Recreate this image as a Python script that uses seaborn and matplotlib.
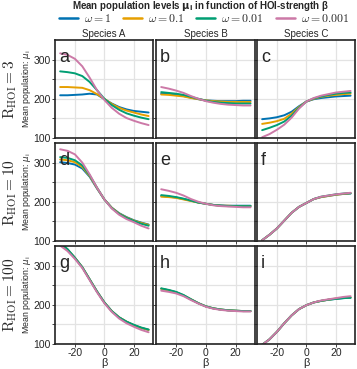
import pandas as pd
import matplotlib.pyplot as plt
import seaborn as sns
from matplotlib.lines import Line2D

beta = [-30, -25, -20, -15, -10, -5, 0, 5, 10, 15, 20, 25, 30]
omega = ['1', '0.1', '0.01', '0.001']
species = ['Species A', 'Species B', 'Species C']
r_hoi = ['3', '10', '100']
letters = ['a', 'b', 'c', 'd', 'e', 'f', 'g', 'h', 'i']
colors = ['#0072B2', '#E69F00', '#009E73', '#CC79A7']

# mean population, one row per omega (1, 0.1, 0.01, 0.001)
mu_a = [[209, 209, 210, 211, 213, 211, 199, 188, 179, 173, 169, 167, 165],
        [230, 230, 229, 228, 222, 212, 200, 187, 177, 170, 165, 160, 156],
        [270, 268, 265, 258, 243, 222, 200, 184, 172, 163, 157, 152, 148],
        [316, 312, 302, 283, 254, 222, 197, 177, 162, 151, 144, 138, 133]]
mu_b = [[213, 212, 210, 207, 203, 199, 196, 195, 194, 194, 194, 195, 195],
        [211, 210, 208, 206, 202, 199, 196, 194, 193, 192, 192, 192, 192],
        [217, 215, 213, 210, 205, 200, 195, 192, 190, 189, 188, 188, 188],
        [230, 226, 221, 215, 207, 200, 194, 190, 187, 185, 184, 183, 183]]
mu_c = [[148, 150, 153, 158, 167, 181, 193, 199, 202, 204, 206, 207, 208],
        [136, 139, 143, 149, 162, 179, 193, 200, 205, 208, 210, 212, 213],
        [120, 126, 133, 142, 157, 177, 193, 201, 206, 210, 213, 215, 216],
        [102, 110, 121, 134, 152, 175, 193, 202, 208, 212, 216, 218, 220]]
mu_d = [[301, 299, 295, 285, 264, 234, 206, 185, 171, 161, 153, 147, 142],
        [308, 306, 301, 289, 266, 235, 206, 185, 170, 160, 152, 146, 141],
        [314, 312, 306, 293, 268, 236, 206, 184, 169, 159, 151, 144, 139],
        [334, 330, 321, 300, 270, 236, 206, 183, 167, 156, 148, 139, 132]]
mu_e = [[215, 213, 211, 207, 203, 198, 195, 192, 191, 190, 190, 190, 190],
        [213, 212, 210, 206, 202, 198, 195, 192, 190, 190, 189, 189, 189],
        [217, 215, 212, 208, 203, 198, 195, 192, 190, 189, 189, 189, 189],
        [232, 228, 223, 216, 207, 200, 195, 191, 189, 188, 187, 186, 186]]
mu_f = [[102, 116, 132, 152, 172, 187, 197, 207, 212, 215, 218, 220, 221],
        [102, 116, 132, 152, 172, 187, 197, 207, 212, 215, 218, 220, 222],
        [102, 116, 132, 152, 172, 187, 197, 207, 213, 216, 219, 221, 222],
        [102, 116, 132, 152, 172, 187, 197, 207, 213, 216, 219, 221, 223]]
mu_g = [[357, 341, 320, 296, 265, 234, 206, 184, 168, 157, 148, 141, 136],
        [357, 341, 320, 296, 265, 234, 206, 184, 168, 157, 148, 141, 136],
        [358, 342, 320, 296, 265, 234, 206, 184, 168, 157, 149, 142, 137],
        [351, 337, 317, 294, 263, 232, 204, 182, 165, 153, 144, 136, 130]]
mu_h = [[241, 237, 232, 224, 214, 204, 196, 191, 188, 186, 185, 184, 184],
        [241, 237, 232, 224, 214, 204, 196, 191, 188, 186, 185, 184, 184],
        [242, 238, 233, 225, 214, 204, 196, 191, 188, 186, 185, 184, 184],
        [236, 233, 229, 222, 212, 203, 195, 190, 187, 185, 184, 183, 183]]
mu_i = [[98, 112, 131, 153, 173, 189, 199, 206, 210, 213, 215, 217, 218],
        [98, 112, 131, 153, 173, 189, 199, 206, 210, 213, 216, 218, 219],
        [98, 112, 131, 153, 173, 189, 199, 206, 210, 213, 215, 217, 218],
        [98, 112, 131, 153, 173, 189, 199, 206, 211, 214, 217, 220, 222]]
panels = [mu_a, mu_b, mu_c, mu_d, mu_e, mu_f, mu_g, mu_h, mu_i]

sns.set_theme(style='white')
plt.rcParams['font.family'] = ['Liberation Sans', 'DejaVu Sans']
plt.rcParams['mathtext.fontset'] = 'cm'

W, H = 357, 369
fig = plt.figure(figsize=(W / 100, H / 100), dpi=100)
cols = [(55, 153), (156, 255), (257, 355)]
rows = [(40, 138), (143, 241), (246, 344)]

for r, (top, bot) in enumerate(rows):
    for c, (left, right) in enumerate(cols):
        ax = fig.add_axes([left / W, 1 - bot / H, (right - left) / W, (bot - top) / H])
        vals = panels[r * 3 + c]
        df = pd.DataFrame({
            'beta': beta * 4,
            'mu': [v for row in vals for v in row],
            'omega': [w for w in omega for _ in beta],
        })
        sns.lineplot(data=df, x='beta', y='mu', hue='omega', hue_order=omega,
                     palette=colors, linewidth=1.4, legend=False, ax=ax)
        ax.set_xlim(-33.5, 33)
        ax.set_ylim(100, 350)
        ax.set_xticks([-20, 0, 20])
        ax.set_yticks([100, 150, 200, 250, 300])
        ax.grid(True, color='#e3e3e3', linewidth=0.9)
        ax.set_axisbelow(True)
        for s in ax.spines.values():
            s.set_color('#222222')
            s.set_linewidth(1.2)
        ax.tick_params(axis='both', length=2, width=0.6, pad=1, labelsize=7.5,
                       left=True, bottom=True)
        if c == 0:
            ax.set_yticklabels(['100', '', '200', '', '300'])
            ax.set_ylabel(r'Mean population: $\mu_\mathrm{i}$', fontsize=6.3,
                          math_fontfamily='dejavusans')
            ax.yaxis.set_label_coords(-22 / 98, 0.5)
        else:
            ax.set_yticklabels([])
            ax.set_ylabel('')
        if r == 2:
            ax.set_xticklabels(['-20', '0', '20'])
            ax.set_xlabel('β', fontsize=8, labelpad=0)
        else:
            ax.set_xticklabels([])
            ax.set_xlabel('')
        ax.text(0.04, 0.91, letters[r * 3 + c], transform=ax.transAxes,
                fontsize=13, va='top', ha='left')
        if r == 0:
            ax.set_title(species[c], fontsize=7, pad=2)
    fig.text(10 / W, 1 - (top + bot) / 2 / H, r'$\mathrm{R_{HOI}} = %s$' % r_hoi[r],
             rotation=90, fontsize=11, ha='center', va='center')

fig.text(200 / W, 1 - 6 / H,
         r'Mean population levels $\mathbf{\mu_i}$ in function of HOI-strength β',
         fontsize=7, fontweight='bold', ha='center', va='center',
         math_fontfamily='dejavusans')

handles = [Line2D([], [], color=col, linewidth=1.8) for col in colors]
labels = [r'$\mathrm{\omega} = %s$' % w for w in omega]
fig.legend(handles, labels, loc='center', bbox_to_anchor=(204 / W, 1 - 19 / H),
           ncol=4, frameon=False, fontsize=8.5, handlelength=1.6,
           handletextpad=0.5, columnspacing=1.0, borderpad=0)

fig.savefig('out.png', dpi=100)
